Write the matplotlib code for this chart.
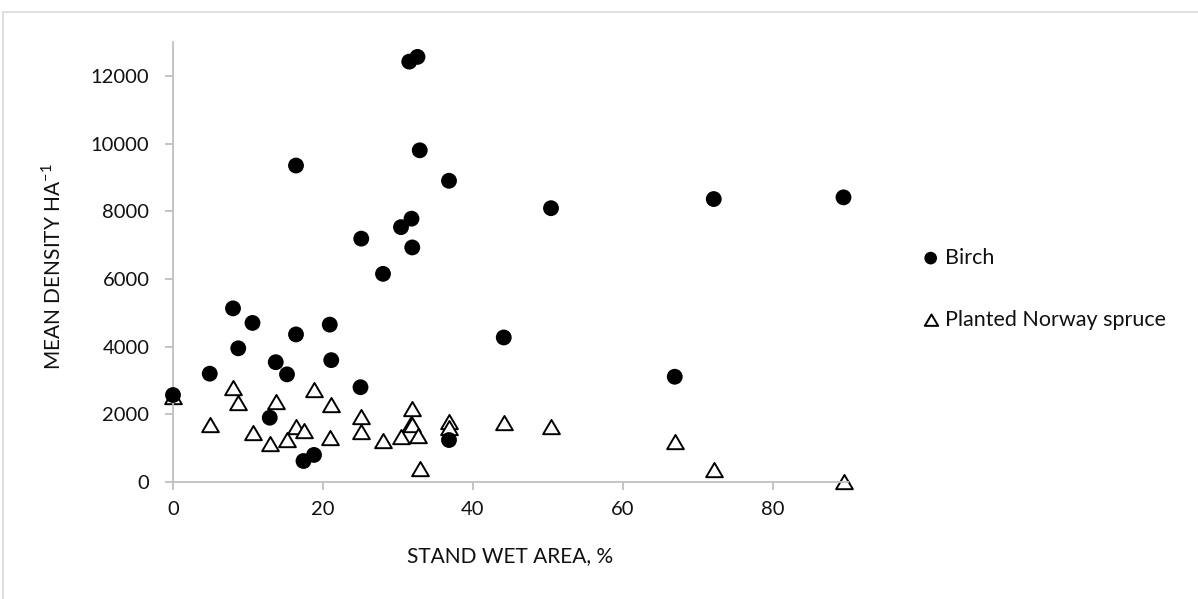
import matplotlib
matplotlib.use("Agg")
import matplotlib.pyplot as plt
from matplotlib.patches import Rectangle
from matplotlib.path import Path

# Data
birch_x = [0, 4.9, 8.0, 8.7, 10.6, 12.9, 13.7, 15.2, 16.4, 16.4, 17.4, 18.8, 20.9, 21.1,
           25.0, 25.1, 28.0, 30.4, 31.5, 31.8, 31.9, 32.6, 32.9, 36.8, 36.8, 44.1, 50.4,
           66.9, 72.1, 89.4]
birch_y = [2570, 3200, 5130, 3950, 4700, 1900, 3540, 3180, 4360, 9350, 620, 800, 4650, 3600,
           2800, 7190, 6150, 7530, 12420, 7780, 6930, 12560, 9800, 8900, 1240, 4270, 8090,
           3110, 8360, 8410]

spruce_x = [0, 4.9, 8.0, 8.7, 10.6, 12.9, 13.7, 15.2, 16.4, 17.4, 18.8, 20.9, 21.1, 25.0,
            25.1, 28.0, 30.4, 31.7, 31.8, 31.9, 32.6, 32.9, 36.8, 36.8, 44.1, 50.4, 66.9,
            72.1, 89.4]
spruce_y = [2520, 1680, 2770, 2340, 1460, 1120, 2370, 1250, 1630, 1510, 2720, 1310, 2270,
            1930, 1470, 1200, 1330, 1720, 2150, 1680, 1360, 380, 1780, 1590, 1750, 1620,
            1170, 350, 0]

series_labels = ["Birch", "Planted Norway spruce"]
x_ticks = [0, 20, 40, 60, 80]
y_ticks = [0, 2000, 4000, 6000, 8000, 10000, 12000]

plt.rcParams['font.family'] = ['Lato', 'DejaVu Sans']

fig = plt.figure(figsize=(11.98, 5.99), dpi=100)
W, H = 1198, 599
ax = fig.add_axes([173 / W, 1 - 482 / H, (848 - 173) / W, (482 - 42) / H])

tri = Path([(-1, -0.8), (1, -0.8), (0, 0.9), (-1, -0.8)],
           [Path.MOVETO, Path.LINETO, Path.LINETO, Path.CLOSEPOLY])

ax.scatter(birch_x, birch_y, s=130, marker='o', color='black', edgecolors='none',
           label=series_labels[0], zorder=3)
ax.scatter(spruce_x, spruce_y, s=145, marker=tri, facecolors='white', edgecolors='black',
           linewidths=1.4, label=series_labels[1], zorder=2)

ax.set_xlim(0, 90)
ax.set_ylim(0, 13000)
ax.set_xticks(x_ticks)
ax.set_yticks(y_ticks)

txt = '#111111'
gray = '#bfbfbf'
for side in ['top', 'right']:
    ax.spines[side].set_visible(False)
for side in ['left', 'bottom']:
    ax.spines[side].set_color(gray)
    ax.spines[side].set_linewidth(1.3)
ax.tick_params(axis='both', colors=gray, length=6, width=1.3, labelcolor=txt,
               labelsize=14.5)
ax.tick_params(axis='y', pad=11)
ax.tick_params(axis='x', pad=8)
for c in ax.collections:
    c.set_clip_on(False)

ax.set_xlabel("STAND WET AREA, %", fontsize=15, color=txt)
ax.set_ylabel("MEAN DENSITY HA$^{\\mathregular{-1}}$", fontsize=15, color=txt)
ax.xaxis.set_label_coords(0.5, (482 - 546) / 440)
ax.yaxis.set_label_coords((64 - 173) / 675, 0.49)

leg = fig.legend(loc='upper left', bbox_to_anchor=(907 / W, 1 - 237 / H), frameon=False,
                 fontsize=15.5, handletextpad=0.05, handlelength=1.2, labelspacing=1.95,
                 markerscale=0.8, borderpad=0)
for t in leg.get_texts():
    t.set_color(txt)

fig.patches.append(Rectangle((3 / W, -0.01), 1.02, 1 - 12 / H + 0.01, transform=fig.transFigure,
                             fill=False, edgecolor='#d9d9d9', linewidth=1.2, zorder=0))

fig.savefig("out.png", dpi=100)
